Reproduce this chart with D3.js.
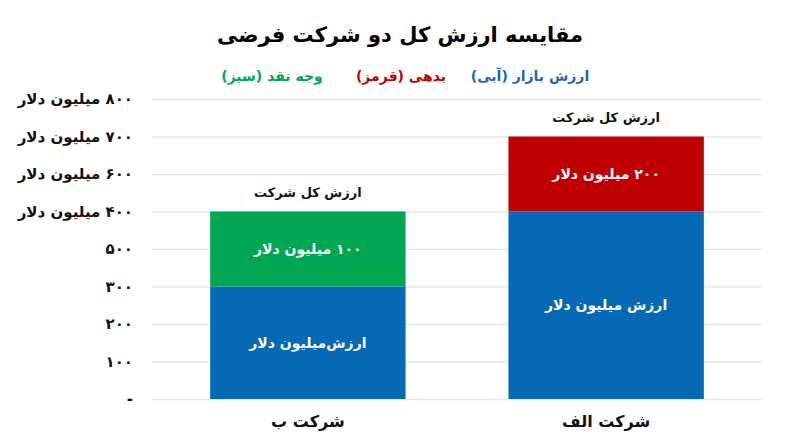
<!DOCTYPE html>
<html>
<head>
<meta charset="utf-8">
<script src="https://cdn.jsdelivr.net/npm/d3@7"></script>
<style>
  body { margin: 0; background: #fff; }
  svg text { font-family: "DejaVu Sans", sans-serif; font-weight: bold; }
</style>
</head>
<body>
<svg id="chart"></svg>
<script>
// data
var companies = ["شرکت ب", "شرکت الف"]
var marketValue = [300, 500]
var debt = [0, 200]
var cash = [200, 0]

var marketLabels = ["ارزش\u200cمیلیون دلار", "ارزش میلیون دلار"]
var debtLabels = ["", "۲۰۰ میلیون دلار"]
var cashLabels = ["۱۰۰ میلیون دلار", ""]
var totalLabel = "ارزش کل شرکت"

var tickValues = [0, 100, 200, 300, 400, 500, 600, 700, 800]
var tickLabels = ["-", "۱۰۰", "۲۰۰", "۳۰۰", "۵۰۰", "۴۰۰ میلیون دلار", "۶۰۰ میلیون دلار", "۷۰۰ میلیون دلار", "۸۰۰ میلیون دلار"]

var seriesKeys = ["market", "debt", "cash"]
var legendNames = ["ارزش بازار (آبی)", "بدهی (قرمز)", "وجه نقد (سبز)"]
var colors = ["#0569b5", "#c00000", "#00a651"]
var legendColors = ["#1f68ad", "#c00000", "#00a651"]

var title = "مقایسه ارزش کل دو شرکت فرضی"

var dim = { width: 800, height: 447 }
var margin = { left: 152, right: 38, top: 99, bottom: 48 }

var svg = d3.select("#chart")
    .attr("width", dim.width)
    .attr("height", dim.height)

var table = companies.map(function(c, i) {
    return { company: c, market: marketValue[i], debt: debt[i], cash: cash[i], i: i }
})
var labels = { market: marketLabels, debt: debtLabels, cash: cashLabels }

var xScale = d3.scaleBand()
    .domain(companies)
    .range([margin.left, dim.width - margin.right])
    .paddingInner(0.345)
    .paddingOuter(0.195)

var yScale = d3.scaleLinear()
    .domain([0, 800])
    .range([dim.height - margin.bottom, margin.top])

var colorScale = d3.scaleOrdinal().domain(seriesKeys).range(colors)

// grid + y labels
var yAxis = d3.axisLeft(yScale)
    .tickValues(tickValues)
    .tickSize(-(dim.width - margin.left - margin.right))
    .tickFormat((d, i) => tickLabels[i])

var yg = svg.append("g")
    .attr("transform", "translate(" + margin.left + ",0)")
    .call(yAxis)
yg.select(".domain").remove()
yg.selectAll(".tick line").attr("stroke", "#e6e6e6").attr("stroke-width", 1.5)
yg.selectAll(".tick text")
    .attr("x", -19)
    .attr("fill", "#111")
    .style("font-size", "15px")
    .attr("direction", "rtl")
    .attr("text-anchor", "start")

// stacked bars
var stacked = d3.stack().keys(seriesKeys)(table)

var layers = svg.append("g")
    .selectAll("g")
    .data(stacked).enter()
    .append("g")
    .attr("fill", d => colorScale(d.key))

layers.selectAll("rect")
    .data(d => d.map(p => ({ key: d.key, p: p })))
    .enter()
    .append("rect")
    .attr("x", d => xScale(d.p.data.company))
    .attr("width", xScale.bandwidth())
    .attr("y", d => yScale(d.p[1]))
    .attr("height", d => yScale(d.p[0]) - yScale(d.p[1]))

layers.selectAll("text")
    .data(d => d.map(p => ({ key: d.key, p: p })).filter(e => labels[e.key][e.p.data.i] !== ""))
    .enter()
    .append("text")
    .attr("x", d => xScale(d.p.data.company) + xScale.bandwidth() / 2)
    .attr("y", d => (yScale(d.p[0]) + yScale(d.p[1])) / 2)
    .attr("dy", "0.35em")
    .attr("text-anchor", "middle")
    .attr("direction", "rtl")
    .attr("fill", "#fff")
    .style("font-size", "14px")
    .text(d => labels[d.key][d.p.data.i])

// totals above bars
svg.append("g")
    .selectAll("text")
    .data(table).enter()
    .append("text")
    .attr("x", d => xScale(d.company) + xScale.bandwidth() / 2)
    .attr("y", d => yScale(d.market + d.debt + d.cash) - 19)
    .attr("dy", "0.35em")
    .attr("text-anchor", "middle")
    .attr("direction", "rtl")
    .attr("fill", "#111")
    .style("font-size", "13px")
    .text(totalLabel)

// x labels
svg.append("g")
    .selectAll("text")
    .data(companies).enter()
    .append("text")
    .attr("x", d => xScale(d) + xScale.bandwidth() / 2)
    .attr("y", dim.height - 26)
    .attr("dy", "0.35em")
    .attr("text-anchor", "middle")
    .attr("direction", "rtl")
    .attr("fill", "#111")
    .style("font-size", "16px")
    .text(d => d)

// title
svg.append("text")
    .attr("x", dim.width / 2)
    .attr("y", 35)
    .attr("dy", "0.35em")
    .attr("text-anchor", "middle")
    .attr("direction", "rtl")
    .attr("fill", "#000")
    .style("font-size", "21px")
    .text(title)

// legend
var legendX = d3.scalePoint().domain(legendNames).range([530, 272])
svg.append("g")
    .selectAll("text")
    .data(legendNames).enter()
    .append("text")
    .attr("x", d => legendX(d))
    .attr("y", 76)
    .attr("dy", "0.35em")
    .attr("text-anchor", "middle")
    .attr("direction", "rtl")
    .attr("fill", (d, i) => legendColors[i])
    .style("font-size", "14px")
    .text(d => d)
</script>
</body>
</html>
